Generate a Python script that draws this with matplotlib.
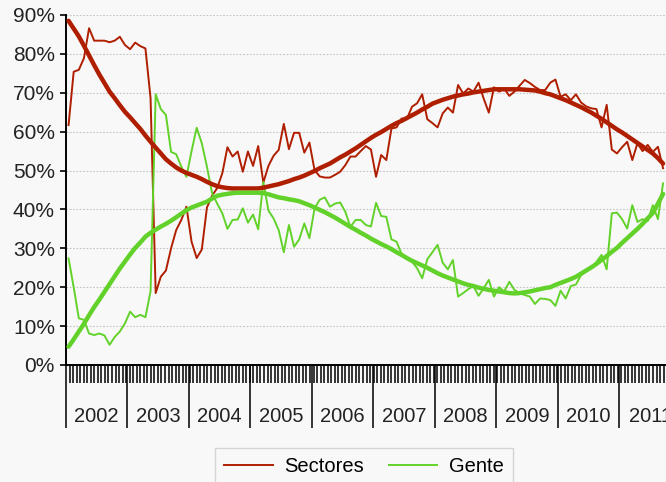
import numpy as np
import matplotlib
matplotlib.use("Agg")
import matplotlib.pyplot as plt
import matplotlib.transforms as mtransforms

# monthly values, Jan 2002 onwards (percent)
sectores = [61.7, 75.4, 75.9, 78.9, 86.6, 83.4, 83.4, 83.4, 83.0, 83.4, 84.4, 82.3,
            81.2, 82.9, 82.0, 81.4, 68.6, 18.5, 22.7, 24.3, 30.0, 34.7, 37.3, 40.7,
            31.7, 27.5, 29.7, 40.5, 43.5, 45.5, 49.3, 56.0, 53.6, 54.9, 49.7, 54.9,
            51.2, 56.3, 46.9, 51.2, 53.8, 55.3, 62.0, 55.5, 59.7, 59.7, 54.6, 57.2,
            50.1, 48.5, 48.2, 48.2, 48.9, 49.7, 51.4, 53.6, 53.6, 55.0, 56.3, 55.4,
            48.4, 54.0, 52.7, 60.8, 61.1, 63.4, 63.2, 66.4, 67.3, 69.6, 63.2, 62.2,
            61.1, 64.7, 66.2, 64.9, 72.0, 69.8, 71.1, 70.3, 72.6, 68.5, 64.9, 71.4,
            70.3, 71.1, 69.2, 70.3, 71.8, 73.3, 72.5, 71.5, 70.7, 70.7, 72.6, 73.4,
            69.0, 69.6, 68.1, 69.6, 67.5, 66.5, 66.0, 65.8, 61.1, 66.9, 55.4, 54.4,
            56.0, 57.4, 52.7, 57.0, 55.0, 56.6, 54.8, 56.1, 50.6]

gente = [27.4, 20.0, 12.0, 11.6, 8.1, 7.7, 8.1, 7.6, 5.2, 7.2, 8.6, 10.7,
         13.7, 12.3, 12.9, 12.3, 19.0, 69.6, 65.8, 64.3, 54.8, 54.2, 51.0, 48.4,
         55.0, 61.0, 57.0, 51.0, 44.2, 41.5, 39.0, 35.0, 37.3, 37.4, 40.3, 36.6,
         38.7, 34.9, 47.1, 39.7, 37.7, 34.7, 29.0, 36.0, 30.4, 32.3, 36.4, 32.6,
         40.3, 42.5, 43.1, 40.7, 41.5, 41.8, 39.4, 35.5, 37.3, 37.3, 36.0, 35.6,
         41.7, 38.3, 38.1, 32.3, 31.7, 28.5, 27.5, 26.6, 24.9, 22.3, 27.2, 29.0,
         30.9, 26.3, 24.6, 27.0, 17.6, 18.5, 19.5, 20.3, 17.8, 19.7, 21.9, 17.6,
         20.0, 18.9, 21.4, 19.3, 18.5, 18.0, 17.6, 15.7, 17.1, 17.0, 16.7, 15.2,
         19.1, 17.1, 20.3, 20.7, 23.1, 24.0, 24.9, 26.5, 28.3, 24.6, 39.0, 39.2,
         37.5, 35.1, 41.1, 36.8, 37.5, 37.0, 41.1, 37.5, 46.7]

# smoothed trends
sectores_trend = [88.5, 86.5, 84.5, 82.1, 79.6, 77.1, 74.7, 72.5, 70.3, 68.6, 66.8, 65.1,
                  63.7, 62.2, 60.7, 59.0, 57.4, 55.9, 54.4, 52.9, 51.8, 50.8, 50.0, 49.4,
                  48.9, 48.4, 47.8, 47.1, 46.5, 46.0, 45.7, 45.5, 45.4, 45.4, 45.4, 45.4,
                  45.4, 45.4, 45.6, 45.9, 46.2, 46.5, 46.9, 47.3, 47.8, 48.2, 48.7, 49.3,
                  49.9, 50.6, 51.2, 51.8, 52.6, 53.4, 54.1, 54.9, 55.7, 56.6, 57.5, 58.4,
                  59.2, 59.9, 60.7, 61.5, 62.2, 62.8, 63.5, 64.2, 64.9, 65.7, 66.4, 67.2,
                  67.7, 68.2, 68.6, 69.0, 69.3, 69.6, 69.8, 70.1, 70.3, 70.5, 70.7, 70.9,
                  70.9, 70.9, 70.9, 70.9, 70.9, 70.8, 70.7, 70.6, 70.3, 69.9, 69.6, 69.1,
                  68.6, 68.1, 67.5, 66.9, 66.3, 65.6, 64.9, 64.1, 63.3, 62.4, 61.5, 60.6,
                  59.8, 58.9, 58.0, 57.1, 56.2, 55.3, 54.4, 53.2, 51.8]

gente_trend = [4.7, 6.6, 8.6, 10.6, 12.8, 14.9, 16.8, 18.8, 20.8, 22.8, 24.8, 26.6,
               28.4, 30.1, 31.5, 33.0, 34.0, 34.8, 35.6, 36.3, 37.1, 38.0, 38.9, 39.8,
               40.5, 41.0, 41.5, 42.0, 42.8, 43.5, 43.8, 44.0, 44.2, 44.3, 44.3, 44.3,
               44.3, 44.3, 44.2, 43.9, 43.5, 43.1, 42.9, 42.6, 42.4, 42.1, 41.6, 41.1,
               40.5, 39.9, 39.3, 38.6, 37.9, 37.1, 36.3, 35.5, 34.8, 34.0, 33.3, 32.5,
               31.8, 31.1, 30.5, 29.8, 29.0, 28.3, 27.5, 26.8, 26.2, 25.6, 25.0, 24.3,
               23.6, 23.0, 22.5, 22.0, 21.5, 21.0, 20.6, 20.3, 19.9, 19.6, 19.3, 19.1,
               18.9, 18.7, 18.5, 18.4, 18.5, 18.7, 18.9, 19.2, 19.5, 19.8, 20.0, 20.6,
               21.1, 21.6, 22.1, 22.7, 23.5, 24.3, 25.1, 26.0, 27.0, 28.0, 29.1, 30.1,
               31.4, 32.6, 33.8, 35.0, 36.3, 37.7, 39.1, 41.5, 44.0]

years = list(range(2002, 2012))

RED = "#b01e00"
GREEN = "#62d22a"
BG = "#f8f8f8"

plt.rcParams['font.family'] = ['Liberation Sans', 'DejaVu Sans']

fig = plt.figure(figsize=(6.66, 4.82), dpi=100, facecolor=BG)
# axes run past the right edge, like the cropped original
ax = fig.add_axes([66 / 666, 117 / 482, 615 / 666, 350 / 482])
ax.set_facecolor(BG)

t = 2002 + (np.arange(len(sectores)) + 0.5) / 12

ax.plot(t, sectores, color=RED, lw=1.4, label="Sectores", zorder=3)
ax.plot(t, gente, color=GREEN, lw=1.4, label="Gente", zorder=3)
ax.plot(t, sectores_trend, color=RED, lw=3.2, solid_capstyle='round', zorder=4)
ax.plot(t, gente_trend, color=GREEN, lw=3.2, solid_capstyle='round', zorder=4)

ax.set_xlim(2002, 2012)
ax.set_ylim(0, 90)
ax.set_yticks(range(0, 100, 10))
ax.set_yticklabels([f"{v}%" for v in range(0, 100, 10)], fontsize=15)
ax.yaxis.grid(True, linestyle=(0, (1.5, 1.5)), color="#c4c4c4", lw=0.8)
ax.set_axisbelow(True)

for s in ("top", "right"):
    ax.spines[s].set_visible(False)
ax.spines["left"].set_linewidth(1.4)
ax.spines["bottom"].set_linewidth(1.4)

ax.tick_params(axis="y", length=4, width=1.2, pad=4, colors="black", labelcolor="#222222")
ax.set_xticks(years)
ax.set_xticklabels([])
ax.set_xticks(np.arange(2002, 2012, 21 / 365.25), minor=True)
ax.tick_params(axis="x", which="major", length=45, width=1.1, direction="out")
ax.tick_params(axis="x", which="minor", length=13, width=1.1, direction="out")

trans = mtransforms.blended_transform_factory(ax.transData, ax.transAxes)
for y in years:
    ax.text(y + 0.5, -51 / 350, str(y), transform=trans, ha="center", va="center",
            fontsize=14.5, color="#222222")

fig.legend(loc="upper center", bbox_to_anchor=(364 / 666, 34 / 482), ncol=2,
           fontsize=14.5, frameon=True, fancybox=False, edgecolor="#cccccc",
           facecolor=BG, handlelength=2.4, handletextpad=0.6, columnspacing=1.2,
           borderpad=0.45, borderaxespad=0)

fig.savefig("out.png", dpi=100, facecolor=BG)
